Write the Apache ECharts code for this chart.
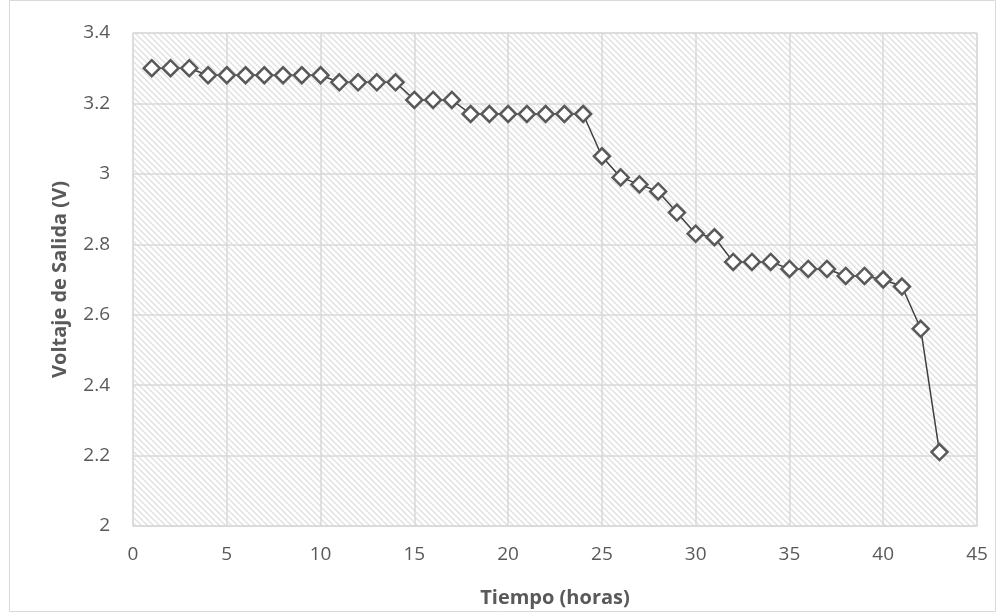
<!DOCTYPE html>
<html>
<head>
<meta charset="utf-8">
<script src="https://cdn.jsdelivr.net/npm/echarts@6/dist/echarts.min.js"></script>
<style>
  html, body { margin: 0; padding: 0; background: #fff; }
  #main { width: 1005px; height: 613px; }
</style>
</head>
<body>
<div id="main"></div>
<script>
// horas
const hours = [1, 2, 3, 4, 5, 6, 7, 8, 9, 10, 11, 12, 13, 14, 15, 16, 17, 18, 19, 20, 21, 22,
  23, 24, 25, 26, 27, 28, 29, 30, 31, 32, 33, 34, 35, 36, 37, 38, 39, 40, 41, 42, 43];
// voltaje de salida (V)
const voltage = [3.30, 3.30, 3.30, 3.28, 3.28, 3.28, 3.28, 3.28, 3.28, 3.28, 3.26, 3.26, 3.26, 3.26,
  3.21, 3.21, 3.21, 3.17, 3.17, 3.17, 3.17, 3.17, 3.17, 3.17, 3.05, 2.99, 2.97, 2.95, 2.89, 2.83,
  2.82, 2.75, 2.75, 2.75, 2.73, 2.73, 2.73, 2.71, 2.71, 2.70, 2.68, 2.56, 2.21];

// trama diagonal del fondo del area de trazado
function hatch() {
  let s = 6;
  let c = document.createElement('canvas');
  c.width = s; c.height = s;
  let ctx = c.getContext('2d');
  ctx.fillStyle = '#ffffff';
  ctx.fillRect(0, 0, s, s);
  ctx.strokeStyle = '#e2e2e2';
  ctx.lineWidth = 1.5;
  ctx.beginPath();
  ctx.moveTo(-1, -1); ctx.lineTo(s + 1, s + 1);
  ctx.moveTo(-1, s - 1); ctx.lineTo(1, s + 1);
  ctx.moveTo(s - 1, -1); ctx.lineTo(s + 1, 1);
  ctx.stroke();
  return c;
}

let myChart = echarts.init(document.getElementById('main'));
let font = '"Open Sans", "DejaVu Sans", sans-serif';
let option = {
  backgroundColor: '#ffffff',
  animation: false,
  graphic: [{
    type: 'rect',
    shape: { x: 9.5, y: 0.5, width: 986, height: 611 },
    style: { fill: 'none', stroke: '#d9d9d9', lineWidth: 1 },
    silent: true
  }],
  grid: {
    left: 133,
    right: 28,
    top: 33,
    bottom: 86,
    show: true,
    backgroundColor: { image: hatch(), repeat: 'repeat' },
    borderColor: '#d9d9d9',
    borderWidth: 1
  },
  xAxis: {
    type: 'value',
    min: 0,
    max: 45,
    interval: 5,
    name: 'Tiempo (horas)',
    nameLocation: 'middle',
    nameGap: 62,
    nameTextStyle: { color: '#595959', fontSize: 20, fontWeight: 'bold', fontFamily: font },
    axisLine: { show: true, lineStyle: { color: '#d9d9d9', width: 1 } },
    axisTick: { show: false },
    axisLabel: { color: '#595959', fontSize: 19, fontFamily: font, margin: 19 },
    splitLine: { show: true, lineStyle: { color: '#d9d9d9', width: 1.5 } }
  },
  yAxis: {
    type: 'value',
    min: 2,
    max: 3.4,
    interval: 0.2,
    name: 'Voltaje de Salida (V)',
    nameLocation: 'middle',
    nameGap: 63,
    nameTextStyle: { color: '#595959', fontSize: 20, fontWeight: 'bold', fontFamily: font },
    axisLine: { show: false },
    axisTick: { show: false },
    axisLabel: { color: '#595959', fontSize: 19, fontFamily: font, margin: 23 },
    splitLine: { show: true, lineStyle: { color: '#d9d9d9', width: 1.5 } }
  },
  series: [{
    type: 'line',
    data: hours.map((h, i) => [h, voltage[i]]),
    symbol: 'diamond',
    symbolSize: [16, 16],
    showAllSymbol: true,
    lineStyle: { color: '#404040', width: 1.5 },
    itemStyle: { color: '#ffffff', borderColor: '#595959', borderWidth: 2.5 },
    z: 3
  }]
};
myChart.setOption(option);
</script>
</body>
</html>
